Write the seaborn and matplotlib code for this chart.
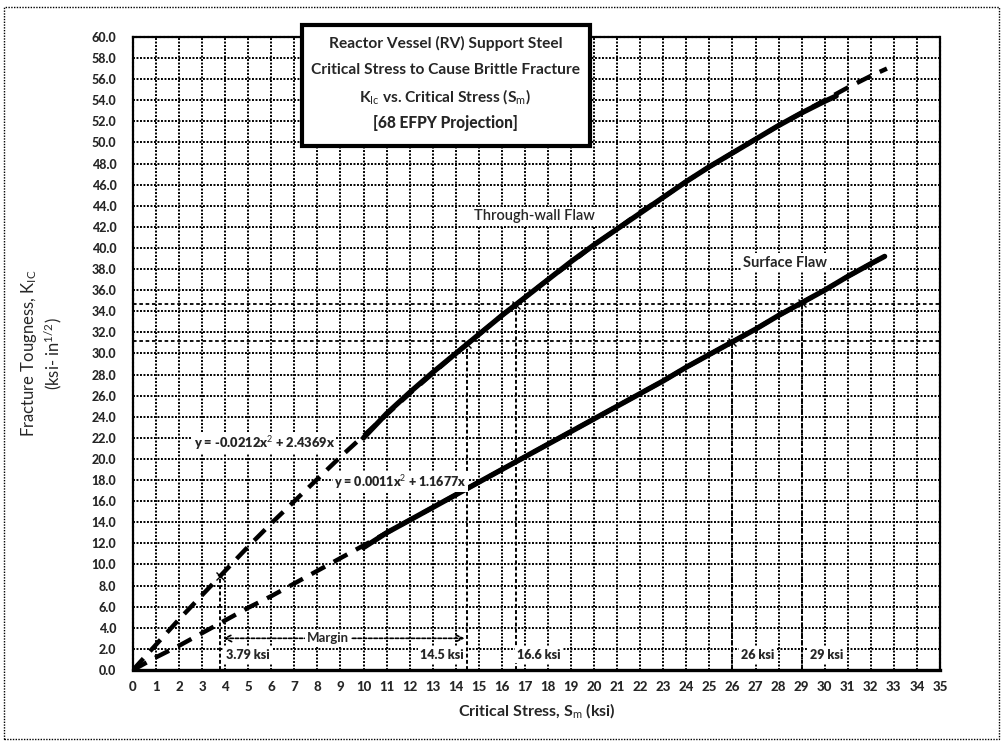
import matplotlib
matplotlib.use("Agg")
import matplotlib.pyplot as plt
import seaborn as sns
import pandas as pd
from matplotlib.patches import Rectangle

# ---------------- data ----------------
tw_trend_x = [0, 1, 2, 3, 4, 5, 6, 7, 8, 9, 10, 11, 12, 13, 14, 15, 16, 17, 18, 19, 20,
              21, 22, 23, 24, 25, 26, 27, 28, 29, 30, 31, 32, 32.7]
tw_trend_y = [0.0, 2.4, 4.8, 7.1, 9.4, 11.7, 13.9, 16.0, 18.1, 20.2, 22.2, 24.2, 26.2, 28.1,
              30.0, 31.8, 33.6, 35.3, 37.0, 38.6, 40.3, 41.8, 43.4, 44.8, 46.3, 47.7, 49.0,
              50.3, 51.6, 52.8, 54.0, 55.2, 56.3, 57.0]
tw_solid_x = [10, 11, 12, 13, 14, 15, 16, 17, 18, 19, 20, 21, 22, 23, 24, 25, 26, 27, 28, 29, 30, 30.5]
tw_solid_y = [22.0, 24.3, 26.3, 28.2, 30.0, 31.8, 33.6, 35.3, 37.0, 38.7, 40.3, 41.8, 43.3,
              44.8, 46.3, 47.7, 49.0, 50.3, 51.6, 52.8, 53.9, 54.4]

sf_trend_x = [0, 1, 2, 3, 4, 5, 6, 7, 8, 9, 10, 11, 12, 13, 14, 15, 16, 17, 18, 19, 20,
              21, 22, 23, 24, 25, 26, 27, 28, 29, 30, 31, 32, 32.6]
sf_trend_y = [0.0, 1.2, 2.3, 3.5, 4.7, 5.9, 7.0, 8.2, 9.4, 10.6, 11.8, 13.0, 14.2, 15.4,
              16.6, 17.8, 19.0, 20.2, 21.4, 22.6, 23.8, 25.0, 26.2, 27.4, 28.7, 29.9, 31.1,
              32.3, 33.6, 34.8, 36.0, 37.3, 38.5, 39.2]
sf_solid_x = [10, 11, 12, 13, 14, 15, 16, 17, 18, 19, 20, 21, 22, 23, 24, 25, 26, 27, 28,
              29, 30, 31, 32, 32.6]
sf_solid_y = [11.6, 13.0, 14.2, 15.4, 16.6, 17.8, 19.0, 20.2, 21.4, 22.6, 23.8, 25.0, 26.2,
              27.4, 28.7, 29.9, 31.1, 32.3, 33.6, 34.8, 36.0, 37.3, 38.5, 39.2]

crit_x = [3.79, 14.5, 16.6, 26.0, 29.0]
crit_y = [8.9, 30.9, 34.6, 31.1, 34.8]
crit_labels = ["3.79 ksi", "14.5 ksi", "16.6 ksi", "26 ksi", "29 ksi"]
crit_label_x = [5.0, 13.4, 17.6, 27.1, 30.1]
ref_h_lines = [31.2, 34.7]

x_ticks = list(range(0, 36))
y_ticks = [v * 2 for v in range(0, 31)]

title_lines = ["Reactor Vessel (RV) Support Steel",
               "Critical Stress to Cause Brittle Fracture",
               r"K$_{Ic}$ vs. Critical Stress (S$_{m}$)",
               "[68 EFPY Projection]"]
eq_tw = r"y = -0.0212x$^{2}$ + 2.4369x"
eq_sf = r"y = 0.0011x$^{2}$ + 1.1677x"

# ---------------- styling ----------------
sns.set_theme(style="white")
plt.rcParams["font.family"] = ["Lato", "DejaVu Sans"]
plt.rcParams["mathtext.fontset"] = "custom"
plt.rcParams["mathtext.rm"] = "Lato"
plt.rcParams["mathtext.it"] = "Lato"
plt.rcParams["mathtext.bf"] = "Lato:bold"

fig = plt.figure(figsize=(10.05, 7.43), dpi=100)
ax = fig.add_axes([0.1323, 0.0983, 0.8030, 0.8520])

# grid
for xv in x_ticks:
    ax.axvline(xv, color="black", lw=1.4, ls=(0, (1.0, 0.8)), zorder=1)
for yv in y_ticks:
    ax.axhline(yv, color="black", lw=1.4, ls=(0, (1.0, 0.8)), zorder=1)
for yv in ref_h_lines:
    ax.axhline(yv, color="black", lw=1.3, ls=(0, (2, 1.5)), zorder=1)

# curves
df_twt = pd.DataFrame({"x": tw_trend_x, "y": tw_trend_y})
df_sft = pd.DataFrame({"x": sf_trend_x, "y": sf_trend_y})
df_tws = pd.DataFrame({"x": tw_solid_x, "y": tw_solid_y})
df_sfs = pd.DataFrame({"x": sf_solid_x, "y": sf_solid_y})
sns.lineplot(data=df_twt, x="x", y="y", ax=ax, color="black", lw=3.2,
             linestyle=(0, (3.5, 2.2)), zorder=3, sort=False)
sns.lineplot(data=df_sft, x="x", y="y", ax=ax, color="black", lw=3.2,
             linestyle=(0, (3.5, 2.2)), zorder=3, sort=False)
sns.lineplot(data=df_tws, x="x", y="y", ax=ax, color="black", lw=3.8, zorder=4, sort=False)
sns.lineplot(data=df_sfs, x="x", y="y", ax=ax, color="black", lw=3.8, zorder=4, sort=False)

# critical stress verticals, markers and labels
for cx, cy, lab, lx in zip(crit_x, crit_y, crit_labels, crit_label_x):
    ax.plot([cx, cx], [0, cy], color="black", lw=1.4, ls=(0, (2, 1.2)), zorder=2)
    ax.plot([cx], [cy], marker="x", color="black", ms=6, mew=1.0, zorder=5)
    ax.text(lx, 1.4, lab, ha="center", va="center", fontsize=9, fontweight="heavy",
            bbox=dict(facecolor="white", edgecolor="none", pad=1.5), zorder=6)

# margin arrow
ax.annotate("", xy=(crit_x[0], 3.0), xytext=(crit_x[1], 3.0),
            arrowprops=dict(arrowstyle="<->", color="black", lw=1.2, ls=(0, (2, 1.2))), zorder=5)
ax.text(8.45, 3.0, "Margin", ha="center", va="center", fontsize=9.5, fontweight="bold",
        bbox=dict(facecolor="white", edgecolor="none", pad=1.5), zorder=6)

# curve labels
ax.text(17.4, 43.0, "Through-wall Flaw", ha="center", va="center", fontsize=10.5,
        fontweight="semibold",
        bbox=dict(facecolor="white", edgecolor="none", pad=2), zorder=6)
ax.text(28.3, 38.6, "Surface Flaw", ha="center", va="center", fontsize=10.5, fontweight="bold",
        bbox=dict(facecolor="white", edgecolor="none", pad=2), zorder=6)
ax.text(5.7, 21.5, eq_tw, ha="center", va="center", fontsize=9.3, fontweight="heavy",
        bbox=dict(facecolor="white", edgecolor="none", pad=1), zorder=6)
ax.text(11.6, 17.8, eq_sf, ha="center", va="center", fontsize=9.0, fontweight="heavy",
        bbox=dict(facecolor="white", edgecolor="none", pad=1), zorder=6)

# title box
box = Rectangle((7.35, 49.7), 12.45, 11.4, facecolor="white", edgecolor="black", lw=3.0,
                zorder=7, clip_on=False)
ax.add_patch(box)
for i, (line, yy) in enumerate(zip(title_lines, [59.4, 56.9, 54.3, 51.8])):
    ax.text(13.55, yy, line, ha="center", va="center", fontsize=11.2,
            fontweight="black" if i == 3 else "bold", zorder=8, clip_on=False)

# axes
ax.set_xlim(0, 35)
ax.set_ylim(0, 60)
ax.set_xticks(x_ticks)
ax.set_xticklabels([str(v) for v in x_ticks], fontsize=9.5, fontweight="black")
ax.set_yticks(y_ticks)
ax.set_yticklabels([f"{v:.1f}" for v in y_ticks], fontsize=9, fontweight="black")
ax.tick_params(axis="x", length=3, width=1.4, color="black", pad=8, direction="in")
ax.tick_params(axis="y", length=0, pad=12)
ax.set_xlabel(r"Critical Stress, S$_{m}$ (ksi)", fontsize=11.5, fontweight="bold", labelpad=6)
ax.set_ylabel("Fracture Tougness, K$_{IC}$\n(ksi- in$^{1/2}$)", fontsize=12, labelpad=20)

for side in ["left", "right", "top"]:
    ax.spines[side].set_color("black")
    ax.spines[side].set_linewidth(1.6)
    ax.spines[side].set_linestyle((0, (1.0, 0.8)))
ax.spines["bottom"].set_color("black")
ax.spines["bottom"].set_linewidth(2.4)

# outer dotted border
fig.patches.append(Rectangle((0.004, 0.006), 0.99, 0.985, transform=fig.transFigure,
                             fill=False, edgecolor="black", lw=1.0, ls=(0, (1, 1))))

fig.savefig("out.png", dpi=100)
